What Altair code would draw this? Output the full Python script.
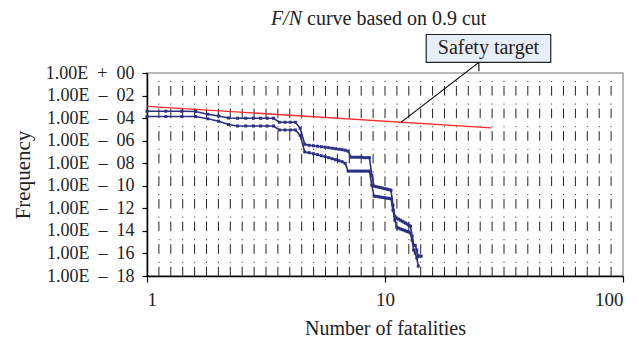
import altair as alt
import pandas as pd

# ---- data ----
N_upper = [1.0, 1.2, 1.4, 1.6, 1.8, 2.0, 2.2, 2.4, 2.6, 2.8, 3.0, 3.2, 3.4, 3.6, 3.8, 4.0, 4.2, 4.4,
           4.6, 4.8, 5.0, 5.2, 5.4, 5.6, 5.8, 6.0, 6.2, 6.4, 6.6, 6.8, 7.0, 7.2, 7.4, 7.6, 7.8, 8.0,
           8.2, 8.4, 8.6, 8.8, 9.0, 9.2, 9.4, 9.6, 9.8, 10.0, 10.2, 10.4, 10.6, 10.8, 11.0, 11.2,
           11.4, 11.6, 11.8, 12.0, 12.2, 12.4, 12.6, 12.8, 13.0, 13.2, 13.4, 13.6, 13.8, 14.0, 14.2]
F_upper = [4.1e-4, 4.1e-4, 4.1e-4, 3.8e-4, 2.2e-4, 1.55e-4, 1.03e-4, 9.7e-5, 9.7e-5, 9.7e-5, 9.7e-5,
           9.7e-5, 9.7e-5, 4.3e-5, 4.3e-5, 4.3e-5, 4.3e-5, 1.26e-5,
           4.8e-7, 3.9e-7, 3.56e-7, 3.2e-7, 2.9e-7, 2.6e-7, 2.37e-7, 2.14e-7, 1.93e-7, 1.74e-7,
           1.58e-7, 1.42e-7, 1.16e-7, 3.4e-8, 3.4e-8, 3.4e-8, 3.4e-8, 3.4e-8,
           3.1e-8, 3.1e-8, 3.1e-8, 8.7e-10, 9.2e-11, 8.3e-11, 7.5e-11, 6.8e-11, 6.1e-11, 5.5e-11,
           5.0e-11, 4.5e-11, 4.1e-11, 1.9e-12, 2.0e-13, 1.35e-13,
           1.1e-13, 9.0e-14, 7.3e-14, 6.0e-14, 4.9e-14, 4.0e-14, 3.2e-14, 2.6e-14, 3.4e-15, 5.5e-16,
           5.0e-16, 2.0e-16, 5.8e-17, 5.8e-17, 5.8e-17]

N_lower = [1.0, 1.2, 1.4, 1.6, 1.8, 2.0, 2.2, 2.4, 2.6, 2.8, 3.0, 3.2, 3.4, 3.6, 3.8, 4.0, 4.2, 4.4,
           4.6, 4.8, 5.0, 5.2, 5.4, 5.6, 5.8, 6.0, 6.2, 6.4, 6.6, 6.8, 7.0, 7.2, 7.4, 7.6, 7.8, 8.0,
           8.2, 8.4, 8.6, 8.8, 9.0, 9.2, 9.4, 9.6, 9.8, 10.0, 10.2, 10.4, 10.6, 10.8, 11.0, 11.2,
           11.4, 11.6, 11.8, 12.0, 12.2, 12.4, 12.6, 12.8, 13.0, 13.2, 13.4, 13.6, 13.8]
F_lower = [1.37e-4, 1.37e-4, 1.37e-4, 1.37e-4, 8.7e-5, 5.3e-5, 2.7e-5, 2.0e-5, 2.0e-5, 2.0e-5, 2.0e-5,
           2.0e-5, 2.0e-5, 8.9e-6, 8.9e-6, 8.9e-6, 8.9e-6, 3.0e-6,
           1.0e-7, 8.6e-8, 7.0e-8, 5.7e-8, 4.6e-8, 3.8e-8, 3.1e-8, 2.5e-8, 2.05e-8, 1.67e-8,
           1.36e-8, 1.0e-8, 2.0e-9, 2.0e-9, 2.0e-9, 2.0e-9, 2.0e-9, 2.0e-9,
           2.0e-9, 2.0e-9, 2.0e-9, 1.13e-10, 1.2e-11, 1.15e-11, 1.06e-11, 9.8e-12, 9.2e-12, 8.65e-12,
           8.0e-12, 7.5e-12, 7.1e-12, 6.9e-13, 9.0e-14, 2.15e-14,
           1.75e-14, 1.5e-14, 1.3e-14, 1.17e-14, 1.0e-14, 8.8e-15, 7.8e-15, 6.3e-15, 1.5e-15, 2.0e-16,
           1.07e-16, 3.9e-17, 7.5e-18]

target_N = [1.0, 28.0]
target_F = [1.12e-3, 1.35e-5]

# callout (data coordinates)
box_N = [14.9, 49.7]
box_F = [2600.0, 8.85]
box_text_N = 27.2
box_text_F = 155.0
box_label = "Safety target"
arrow_N = [24.8, 24.8, 11.7]
arrow_F = [1.41, 8.85, 4.4e-5]

grid_N = [round(10 ** (k / 20), 5) for k in range(1, 40)]  # vertical dotted gridlines
x_ticks = [1, 10, 100]
y_ticks = [1, 1e-2, 1e-4, 1e-6, 1e-8, 1e-10, 1e-12, 1e-14, 1e-16, 1e-18]
SP = "\u2002"
MN = "\u2013"
y_labels = ["1.00E" + SP + "+" + SP + "00"] + [
    "1.00E" + SP + MN + SP + e for e in ["02", "04", "06", "08", "10", "12", "14", "16", "18"]
]

title_italic = "F/N"
title_rest = "curve based on 0.9 cut"
x_title = "Number of fatalities"
y_title = "Frequency"

FONT = "Liberation Serif"
NAVY = "#2b2f82"
TXT = "#222222"
W, H = 476, 203

curves = pd.concat([
    pd.DataFrame({"N": N_upper, "F": F_upper, "s": "upper"}),
    pd.DataFrame({"N": N_lower, "F": F_lower, "s": "lower"}),
])
target = pd.DataFrame({"N": target_N, "F": target_F})
grid = pd.DataFrame({"N": grid_N})
box = pd.DataFrame({"N": [box_N[0]], "N2": [box_N[1]], "F": [box_F[0]], "F2": [box_F[1]]})
box_txt = pd.DataFrame({"N": [box_text_N], "F": [box_text_F], "t": [box_label]})
arrow = pd.DataFrame({"N": arrow_N, "F": arrow_F, "o": [0, 1, 2]})

xscale = alt.Scale(type="log", domain=[1, 100], nice=False)
yscale = alt.Scale(type="log", domain=[1e-18, 1], nice=False)

label_expr = "[" + ",".join(f"'{l}'" for l in y_labels) + "][round(-log(datum.value)/LN10/2)]"

xaxis = alt.Axis(values=x_ticks, title=x_title, format="d", tickSize=6, labelPadding=8,
                 labelFontSize=19, titleY=52, titleBaseline="middle", grid=False)
yaxis = alt.Axis(values=y_ticks, title=y_title, labelExpr=label_expr, tickSize=5, labelPadding=8,
                 titleX=-124, titleY=H / 2, titleBaseline="middle", titleFontSize=21, grid=False)

grid_layer = alt.Chart(grid).mark_rule(stroke="#222222", strokeWidth=1,
                                       strokeDash=[1, 4, 9.6, 8], strokeDashOffset=14.6).encode(
    x=alt.X("N:Q", scale=xscale, axis=xaxis)
)

target_layer = alt.Chart(target).mark_line(color="#ff2a2a", strokeWidth=1.3).encode(
    x=alt.X("N:Q", scale=xscale),
    y=alt.Y("F:Q", scale=yscale, axis=yaxis),
)

curve_layer = alt.Chart(curves).mark_line(
    color=NAVY, strokeWidth=1.6,
    point=alt.OverlayMarkDef(shape="square", size=9, filled=True, color=NAVY)
).encode(
    x=alt.X("N:Q", scale=xscale),
    y=alt.Y("F:Q", scale=yscale),
    detail="s:N",
)

arrow_layer = alt.Chart(arrow).mark_line(color="black", strokeWidth=1.1).encode(
    x=alt.X("N:Q", scale=xscale),
    y=alt.Y("F:Q", scale=yscale),
    order="o:Q",
)

box_layer = alt.Chart(box).mark_rect(fill="#e8eef8", stroke=TXT, strokeWidth=1.2).encode(
    x=alt.X("N:Q", scale=xscale), x2="N2:Q",
    y=alt.Y("F:Q", scale=yscale), y2="F2:Q",
)

box_text_layer = alt.Chart(box_txt).mark_text(font=FONT, fontSize=20, color=TXT,
                                              baseline="middle", align="center").encode(
    x=alt.X("N:Q", scale=xscale),
    y=alt.Y("F:Q", scale=yscale),
    text="t:N",
)

title_a = alt.Chart(pd.DataFrame({"t": [title_italic]})).mark_text(
    font=FONT, fontSize=20, fontStyle="italic", align="right", baseline="middle", color=TXT
).encode(x=alt.value(155), y=alt.value(-54), text="t:N")

title_b = alt.Chart(pd.DataFrame({"t": [title_rest]})).mark_text(
    font=FONT, fontSize=20, align="left", baseline="middle", color=TXT
).encode(x=alt.value(160), y=alt.value(-54), text="t:N")

chart = alt.layer(
    grid_layer, target_layer, curve_layer, arrow_layer, box_layer, box_text_layer, title_a, title_b
).properties(
    width=W, height=H,
    autosize=alt.AutoSizeParams(type="none"),
    padding={"left": 147, "top": 73, "right": 16, "bottom": 65},
    background="white",
).configure_view(
    stroke="#a0a0a0", strokeWidth=1.5
).configure_axis(
    domainColor="black", domainWidth=1.5, tickColor="black", tickWidth=1.2,
    labelFont=FONT, labelFontSize=18, labelColor=TXT,
    titleFont=FONT, titleFontSize=20, titleFontWeight="normal", titleColor=TXT,
)

chart.save("out.html", embed_options={"renderer": "svg", "actions": False})
